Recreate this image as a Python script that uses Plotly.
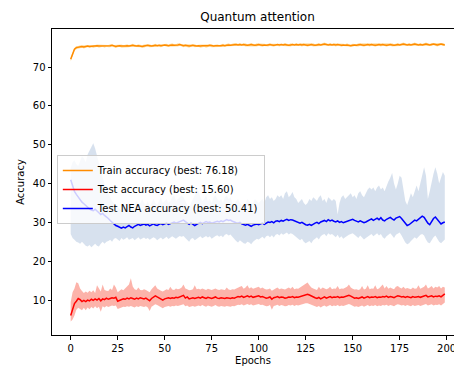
import plotly.graph_objects as go

epochs = list(range(200))

train_mean = [
    72.0, 73.6, 74.6, 75.0, 75.1, 75.2, 75.3, 75.2, 75.3, 75.4, 75.3, 75.4, 75.3, 75.4, 75.5, 75.4, 75.4, 75.5, 75.4, 75.5,
    75.4, 75.5, 75.6, 75.4, 75.3, 75.4, 75.5, 75.4, 75.3, 75.4, 75.5, 75.4, 75.5, 75.6, 75.5, 75.4, 75.5, 75.4, 75.3, 75.4,
    75.5, 75.6, 75.5, 75.4, 75.5, 75.6, 75.5, 75.6, 75.5, 75.6, 75.7, 75.6, 75.5, 75.6, 75.7, 75.6, 75.6, 75.7, 75.8, 75.6,
    75.5, 75.6, 75.5, 75.4, 75.5, 75.6, 75.5, 75.4, 75.5, 75.4, 75.5, 75.5, 75.4, 75.5, 75.6, 75.5, 75.4, 75.5, 75.5, 75.4,
    75.5, 75.6, 75.5, 75.6, 75.7, 75.6, 75.7, 75.8, 75.8, 75.7, 75.8, 75.7, 75.8, 75.7, 75.6, 75.7, 75.8, 75.7, 75.6, 75.7,
    75.8, 75.7, 75.6, 75.7, 75.6, 75.7, 75.8, 75.7, 75.6, 75.7, 75.8, 75.7, 75.8, 75.7, 75.8, 75.7, 75.6, 75.7, 75.8, 75.7,
    75.8, 75.7, 75.8, 75.7, 75.8, 75.7, 75.6, 75.7, 75.8, 75.7, 75.6, 75.7, 75.8, 75.7, 75.8, 75.9, 75.8, 75.7, 75.8, 75.7,
    75.8, 75.7, 75.8, 75.7, 75.6, 75.7, 75.6, 75.7, 75.6, 75.5, 75.6, 75.7, 75.6, 75.7, 75.8, 75.7, 75.6, 75.7, 75.8, 75.7,
    75.8, 75.7, 75.6, 75.7, 75.8, 75.7, 75.8, 75.7, 75.6, 75.7, 75.8, 75.7, 75.6, 75.7, 75.8, 75.7, 75.8, 75.9, 75.8, 75.7,
    75.8, 75.7, 75.8, 75.9, 75.8, 75.7, 75.8, 75.7, 75.8, 75.9, 75.8, 75.7, 75.8, 75.9, 75.8, 75.7, 75.8, 75.9, 75.8, 75.7,
]

train_std = [
    0.6, 0.5, 0.4, 0.4, 0.3, 0.4, 0.3, 0.4, 0.3, 0.3, 0.4, 0.3, 0.4, 0.3, 0.3, 0.4, 0.3, 0.3, 0.4, 0.3,
    0.3, 0.4, 0.3, 0.3, 0.4, 0.3, 0.3, 0.4, 0.3, 0.3, 0.4, 0.3, 0.3, 0.4, 0.3, 0.3, 0.4, 0.3, 0.3, 0.4,
    0.3, 0.3, 0.4, 0.3, 0.3, 0.4, 0.3, 0.3, 0.4, 0.3, 0.3, 0.4, 0.3, 0.3, 0.4, 0.3, 0.3, 0.4, 0.3, 0.3,
    0.4, 0.3, 0.3, 0.4, 0.3, 0.3, 0.4, 0.3, 0.3, 0.4, 0.3, 0.3, 0.4, 0.3, 0.3, 0.4, 0.3, 0.3, 0.4, 0.3,
    0.3, 0.4, 0.3, 0.3, 0.4, 0.3, 0.3, 0.4, 0.3, 0.3, 0.4, 0.3, 0.3, 0.4, 0.3, 0.3, 0.4, 0.3, 0.3, 0.4,
    0.3, 0.3, 0.4, 0.3, 0.3, 0.4, 0.3, 0.3, 0.4, 0.3, 0.3, 0.4, 0.3, 0.3, 0.4, 0.3, 0.3, 0.4, 0.3, 0.3,
    0.4, 0.3, 0.3, 0.4, 0.3, 0.3, 0.4, 0.3, 0.3, 0.4, 0.3, 0.3, 0.4, 0.3, 0.3, 0.4, 0.3, 0.3, 0.4, 0.3,
    0.3, 0.4, 0.3, 0.3, 0.4, 0.3, 0.3, 0.4, 0.3, 0.3, 0.4, 0.3, 0.3, 0.4, 0.3, 0.3, 0.4, 0.3, 0.3, 0.4,
    0.3, 0.3, 0.4, 0.3, 0.3, 0.4, 0.3, 0.3, 0.4, 0.3, 0.3, 0.4, 0.3, 0.3, 0.4, 0.3, 0.3, 0.4, 0.3, 0.3,
    0.4, 0.3, 0.3, 0.4, 0.3, 0.3, 0.4, 0.3, 0.3, 0.4, 0.3, 0.3, 0.4, 0.3, 0.3, 0.4, 0.3, 0.3, 0.4, 0.3,
]

test_mean = [
    6.0, 7.6, 9.1, 9.7, 10.4, 10.1, 9.6, 9.9, 9.6, 10.0, 9.8, 10.2, 9.9, 10.3, 10.0, 10.4, 9.8, 10.3, 10.1, 10.5,
    10.2, 10.4, 10.6, 10.5, 10.7, 9.7, 9.9, 10.1, 10.3, 10.2, 10.5, 10.3, 10.6, 10.4, 10.2, 10.5, 10.3, 10.6, 10.4, 10.3,
    10.5, 10.2, 9.8, 10.4, 10.7, 11.1, 10.8, 10.5, 10.3, 10.0, 10.3, 10.5, 10.6, 10.4, 10.6, 10.5, 10.7, 10.6, 10.8, 10.9,
    11.2, 10.5, 10.8, 10.3, 10.4, 10.6, 10.4, 10.6, 10.7, 10.5, 10.8, 10.6, 10.4, 10.7, 10.5, 10.4, 10.6, 10.8, 10.5, 10.4,
    10.6, 10.5, 10.4, 10.6, 10.5, 10.4, 10.6, 10.5, 10.7, 10.9, 10.8, 11.0, 10.7, 10.9, 11.1, 10.8, 11.0, 10.7, 10.9, 11.0,
    11.1, 10.8, 10.9, 10.7, 10.5, 10.6, 10.8, 10.2, 10.6, 10.7, 10.9, 10.6, 10.8, 10.7, 10.5, 10.6, 10.8, 10.7, 10.9, 10.6,
    10.8, 10.7, 10.9, 11.0, 11.2, 11.4, 11.5, 11.3, 11.0, 10.8, 10.6, 10.4, 10.7, 10.3, 10.6, 10.8, 10.5, 10.7, 10.9, 10.6,
    10.8, 10.7, 10.9, 10.6, 10.8, 10.7, 10.9, 11.0, 11.2, 11.0, 10.7, 10.5, 10.6, 10.4, 10.6, 10.8, 10.5, 10.7, 10.9, 10.6,
    10.8, 10.7, 10.9, 10.6, 10.8, 10.7, 10.9, 10.8, 11.0, 10.7, 10.9, 10.8, 10.6, 10.9, 11.1, 11.0, 10.8, 10.9, 10.7, 10.9,
    10.8, 10.6, 10.9, 10.7, 10.8, 10.9, 10.7, 10.9, 11.0, 11.2, 10.8, 10.9, 11.1, 10.8, 11.0, 10.9, 11.1, 10.8, 11.2, 11.6,
]

test_upper = [
    9.5, 12.0, 13.0, 14.6, 14.3, 13.0, 12.3, 11.8, 12.2, 11.9, 12.4, 12.0, 12.5, 11.8, 13.8, 12.8, 12.2, 14.0, 12.6, 12.4,
    12.3, 13.0, 12.6, 14.0, 13.2, 12.0, 12.4, 12.8, 12.5, 13.0, 13.6, 14.0, 15.6, 13.5, 12.8, 12.6, 13.2, 12.6, 12.5, 12.8,
    12.6, 12.4, 12.0, 12.8, 13.4, 13.8, 13.0, 12.6, 12.4, 12.2, 12.5, 12.8, 12.6, 13.4, 12.7, 12.6, 13.0, 12.8, 12.9, 13.2,
    14.0, 13.0, 12.8, 12.5, 12.6, 12.8, 13.8, 12.8, 12.9, 12.7, 13.0, 12.8, 12.6, 12.9, 12.7, 12.6, 12.8, 13.0, 12.7, 12.6,
    12.8, 12.7, 12.6, 13.2, 12.7, 12.6, 12.8, 12.7, 13.0, 13.2, 13.4, 13.6, 12.9, 13.2, 13.8, 13.0, 13.3, 12.9, 13.1, 13.2,
    13.4, 13.0, 13.2, 12.9, 12.7, 12.8, 13.0, 12.4, 12.8, 13.0, 13.2, 12.8, 13.0, 12.9, 12.7, 13.0, 13.2, 12.9, 13.4, 12.8,
    13.0, 12.9, 13.2, 13.4, 13.8, 14.2, 14.5, 13.8, 13.2, 13.0, 12.8, 12.6, 13.4, 12.8, 13.2, 13.0, 12.8, 13.0, 13.4, 12.8,
    13.0, 12.9, 13.6, 12.8, 13.0, 12.9, 13.2, 13.4, 14.0, 13.2, 12.9, 12.7, 12.8, 12.6, 12.8, 13.6, 12.7, 12.9, 13.8, 12.8,
    13.0, 12.9, 13.8, 12.8, 13.0, 13.4, 14.0, 13.0, 13.6, 12.9, 13.2, 13.0, 12.8, 13.4, 13.6, 13.2, 13.0, 13.4, 12.9, 13.1,
    13.0, 12.8, 13.2, 12.9, 13.0, 13.8, 12.9, 13.1, 13.4, 14.0, 13.0, 13.2, 13.6, 13.0, 13.4, 13.2, 13.6, 13.0, 13.4, 13.2,
]

test_lower = [
    4.5, 5.0, 6.0, 7.5, 8.0, 7.8, 7.4, 8.0, 7.4, 8.1, 7.6, 8.2, 7.8, 8.4, 7.9, 8.3, 7.0, 8.4, 8.1, 8.5,
    8.2, 8.4, 8.6, 8.5, 8.6, 7.7, 7.9, 8.1, 8.3, 8.2, 8.4, 8.3, 8.5, 8.3, 8.1, 8.4, 8.2, 8.5, 8.3, 8.2,
    8.4, 8.1, 7.2, 8.3, 8.6, 8.9, 8.7, 8.4, 8.2, 7.9, 8.2, 8.4, 8.5, 8.3, 8.5, 8.4, 8.6, 8.5, 8.7, 8.8,
    8.9, 8.4, 8.6, 8.2, 8.3, 8.5, 8.3, 8.5, 8.6, 8.4, 8.7, 8.5, 8.3, 8.6, 8.4, 8.3, 8.5, 8.7, 8.4, 8.3,
    8.5, 8.4, 8.3, 8.5, 8.4, 8.3, 8.5, 8.4, 8.6, 8.8, 8.7, 8.9, 8.6, 8.8, 9.0, 8.7, 8.9, 8.6, 8.8, 8.9,
    9.0, 8.7, 8.8, 8.6, 8.4, 8.5, 8.7, 7.5, 8.5, 8.6, 8.8, 8.5, 8.7, 8.6, 8.4, 8.5, 8.7, 8.6, 8.8, 8.5,
    8.7, 8.6, 8.8, 8.9, 9.0, 9.2, 9.2, 9.0, 8.8, 8.6, 8.4, 8.2, 8.5, 8.1, 8.4, 8.6, 8.3, 8.5, 8.7, 8.4,
    8.6, 8.5, 8.7, 8.4, 8.6, 8.5, 8.7, 8.8, 9.0, 8.8, 8.5, 8.3, 8.4, 8.2, 8.4, 8.6, 8.3, 8.5, 8.7, 8.4,
    8.6, 8.5, 8.7, 8.4, 8.6, 8.5, 8.7, 8.6, 8.8, 8.5, 8.7, 8.6, 8.4, 8.7, 8.9, 8.8, 8.6, 8.7, 8.5, 8.7,
    8.6, 8.4, 8.7, 8.5, 8.6, 8.7, 8.5, 8.7, 8.8, 9.0, 8.6, 8.7, 8.9, 8.6, 8.8, 8.7, 8.9, 8.6, 9.0, 9.4,
]

nea_mean = [
    41.0, 39.5, 38.0, 37.2, 36.5, 36.0, 35.2, 34.8, 34.3, 34.0, 33.5, 33.2, 33.0, 33.4, 32.8, 32.5, 32.0, 32.3, 31.8, 31.5,
    31.0, 30.5, 30.0, 29.6, 29.2, 29.0, 28.7, 28.5, 28.8, 28.6, 28.9, 29.2, 28.8, 28.6, 29.0, 29.3, 29.5, 29.2, 29.4, 29.6,
    29.3, 29.5, 29.1, 29.4, 29.6, 29.3, 29.2, 29.5, 29.7, 29.4, 29.6, 29.8, 29.5, 29.7, 29.9, 30.1, 29.8, 30.0, 30.2, 30.4,
    30.6, 30.2, 29.8, 29.5, 29.9, 29.6, 29.2, 29.5, 29.8, 30.0, 29.7, 29.9, 30.2, 30.0, 30.1, 29.8, 30.0, 30.2, 30.3, 30.1,
    30.4, 30.2, 30.5, 30.7, 30.5, 30.6, 30.3, 30.0, 29.9, 29.8, 30.0, 29.6, 29.4, 29.3, 29.5, 29.2, 29.0, 29.3, 29.5, 29.6,
    29.4, 29.6, 29.8, 29.5, 29.9, 30.1, 30.0, 30.2, 29.9, 30.3, 30.4, 30.2, 30.5, 30.3, 30.6, 30.8, 30.5, 30.7, 30.6, 30.4,
    30.2, 29.9, 29.8, 30.0, 29.6, 29.4, 29.3, 29.5, 29.2, 29.6, 29.8, 30.0, 29.7, 30.1, 30.3, 30.5, 30.2, 30.7, 30.4, 30.6,
    30.3, 30.1, 30.4, 30.0, 30.2, 29.9, 30.1, 30.3, 30.4, 30.6, 30.8, 30.5, 30.3, 30.1, 30.4, 30.2, 29.9, 30.1, 30.3, 30.6,
    30.9, 30.5, 30.8, 31.1, 30.7, 31.2, 30.6, 30.4, 30.8, 31.0, 31.3, 30.9, 30.6, 31.1, 31.4, 31.5, 31.0, 30.4, 29.6, 29.2,
    29.4, 29.8, 30.3, 30.6, 30.4, 30.8, 31.2, 31.6, 31.3, 30.5, 29.8, 29.4, 30.2, 31.0, 31.4, 30.8, 30.0, 29.6, 29.9, 30.1,
]

nea_upper = [
    44.0, 45.5, 46.0, 45.0, 44.5, 46.0, 47.0, 46.5, 45.5, 47.5, 48.5, 49.5, 50.4, 49.0, 47.0, 45.0, 43.0, 41.5, 40.0, 38.5,
    37.5, 36.5, 35.5, 35.0, 34.5, 34.0, 33.5, 33.0, 34.0, 33.5, 34.5, 35.0, 34.0, 33.5, 34.5, 35.5, 34.5, 35.0, 36.0, 35.0,
    34.5, 35.5, 34.0, 35.0, 36.0, 35.0, 34.5, 35.5, 36.5, 35.0, 35.5, 36.0, 35.0, 35.5, 36.5, 37.0, 35.5, 36.0, 36.5, 37.0,
    36.5, 35.5, 34.5, 33.5, 35.0, 36.0, 37.0, 38.5, 38.0, 36.5, 35.5, 36.0, 37.0, 35.5, 36.0, 35.0, 36.5, 37.0, 36.0, 35.5,
    36.0, 35.0, 36.5, 37.0, 36.0, 36.5, 35.0, 34.5, 35.5, 36.0, 35.0, 34.5, 34.0, 35.0, 36.0, 35.5, 34.5, 35.0, 36.0, 35.5,
    35.0, 35.5, 36.0, 35.0, 36.5, 37.0, 36.0, 36.5, 35.5, 36.0, 37.0, 36.5, 37.0, 36.0, 37.5, 38.0, 36.5, 37.0, 37.8, 36.5,
    36.0, 35.0, 35.5, 36.0, 35.0, 34.5, 35.0, 36.0, 35.5, 36.5, 36.0, 35.5, 36.5, 37.0, 35.5, 36.0, 35.0, 36.5, 36.0, 35.5,
    36.0, 35.5, 32.0, 35.0, 36.5, 37.0, 36.0, 36.5, 37.0, 37.5, 36.5, 37.0, 36.0, 37.5, 38.0, 37.0, 36.5, 37.5, 38.5, 39.0,
    38.5, 39.0, 38.0, 39.0, 39.5, 38.5, 39.0, 38.0, 39.5, 40.5, 41.5, 42.7, 40.0, 38.5, 40.0, 42.0, 41.5, 38.0, 35.5, 34.5,
    36.0, 37.5, 36.5, 38.0, 39.5, 38.0, 40.0, 42.5, 44.2, 42.0, 36.0, 38.0, 40.5, 42.5, 44.2, 42.5, 40.0, 41.5, 43.0, 42.0,
]

nea_lower = [
    27.0, 26.0, 25.5, 25.0, 24.8, 24.5, 25.0, 24.5, 24.0, 23.8, 24.2, 23.6, 24.0, 24.5, 24.0, 23.8, 24.5, 25.0, 24.5, 25.0,
    25.2, 25.5, 25.0, 25.8, 26.0, 25.5, 25.2, 26.0, 25.5, 25.8, 26.2, 25.5, 25.8, 26.0, 25.4, 25.8, 26.2, 25.6, 25.9, 26.1,
    25.7, 26.0, 25.5, 25.8, 26.2, 25.9, 25.4, 25.8, 26.1, 25.6, 25.9, 26.3, 25.7, 26.0, 26.4, 26.1, 25.8, 26.2, 26.5, 26.3,
    26.5, 26.0, 25.5, 25.0, 25.8, 26.0, 25.4, 25.8, 26.2, 26.4, 25.9, 26.2, 26.5, 26.1, 26.4, 25.8, 26.2, 26.5, 26.7, 26.3,
    26.6, 26.2, 26.8, 27.0, 26.6, 26.9, 26.3, 25.6, 25.2, 24.8, 25.4, 25.0, 24.6, 24.5, 25.0, 24.8, 24.4, 25.0, 25.5, 25.8,
    25.6, 26.0, 26.3, 25.8, 26.4, 26.6, 26.2, 26.7, 26.1, 26.8, 27.0, 26.6, 27.2, 26.8, 27.2, 27.4, 26.9, 27.2, 27.0, 26.6,
    26.2, 25.6, 25.4, 25.8, 25.0, 24.6, 24.8, 25.2, 24.6, 25.4, 25.8, 26.2, 25.6, 26.4, 26.8, 27.0, 26.4, 27.2, 26.8, 27.0,
    26.6, 26.2, 26.8, 26.0, 26.4, 25.8, 26.2, 26.6, 26.8, 27.0, 27.2, 26.8, 26.4, 26.0, 26.6, 26.2, 25.6, 26.0, 26.4, 26.8,
    27.0, 26.4, 26.8, 27.2, 26.6, 27.0, 26.2, 25.8, 26.4, 26.8, 27.2, 26.6, 26.0, 26.8, 27.2, 27.4, 26.6, 25.6, 24.8, 24.4,
    24.6, 25.2, 25.8, 26.2, 25.8, 26.4, 26.8, 27.0, 26.6, 25.6, 24.8, 24.6, 25.4, 26.2, 26.6, 25.8, 25.0, 24.6, 25.2, 25.6,
]

labels = [
    "Train accuracy (best: 76.18)",
    "Test accuracy (best: 15.60)",
    "Test NEA accuracy (best: 50.41)",
]
x_ticks = [0, 25, 50, 75, 100, 125, 150, 175, 200]
y_ticks = [10, 20, 30, 40, 50, 60, 70]

train_lower = [m - s for m, s in zip(train_mean, train_std)]
train_upper = [m + s for m, s in zip(train_mean, train_std)]

fig = go.Figure()


def add_band(lower, upper, fill):
    fig.add_trace(go.Scatter(x=epochs, y=lower, mode="lines", line=dict(width=0),
                             showlegend=False, hoverinfo="skip"))
    fig.add_trace(go.Scatter(x=epochs, y=upper, mode="lines", line=dict(width=0),
                             fill="tonexty", fillcolor=fill, showlegend=False, hoverinfo="skip"))


add_band(train_lower, train_upper, "rgba(255,165,0,0.35)")
fig.add_trace(go.Scatter(x=epochs, y=train_mean, mode="lines", name=labels[0],
                         line=dict(color="#ff8c00", width=1.5)))
add_band(test_lower, test_upper, "rgba(250,128,114,0.6)")
fig.add_trace(go.Scatter(x=epochs, y=test_mean, mode="lines", name=labels[1],
                         line=dict(color="#ff0000", width=1.5)))
add_band(nea_lower, nea_upper, "rgba(176,196,222,0.5)")
fig.add_trace(go.Scatter(x=epochs, y=nea_mean, mode="lines", name=labels[2],
                         line=dict(color="#0000ff", width=1.5)))

font_family = "DejaVu Sans"
fig.update_layout(
    width=454, height=369,
    margin=dict(l=52, r=0, t=29, b=34, autoexpand=False),
    paper_bgcolor="white", plot_bgcolor="white",
    font=dict(family=font_family, size=10, color="black"),
    title=dict(text="Quantum attention", x=(52 + 463) / 2 / 454, xanchor="center",
               y=1 - 17 / 369, yanchor="middle", font=dict(size=12, color="black")),
    showlegend=True,
    legend=dict(x=0.012, y=0.588, xanchor="left", yanchor="top", traceorder="normal",
                bgcolor="rgba(255,255,255,0.8)", bordercolor="#cccccc", borderwidth=1,
                font=dict(size=10, color="black"), tracegroupgap=0, itemwidth=30),
)
fig.update_xaxes(range=[-9.95, 203.9], tickmode="array", tickvals=x_ticks, automargin=False,
                 ticklabeloverflow="allow",
                 ticks="outside", ticklen=3.5, tickcolor="black", showgrid=False, zeroline=False,
                 showline=True, linecolor="black", linewidth=1, mirror=True,
                 title=dict(text="Epochs", standoff=4, font=dict(size=10)))
fig.update_yaxes(range=[1.0, 79.8], tickmode="array", tickvals=y_ticks, automargin=False,
                 ticks="outside", ticklen=3.5, tickcolor="black", showgrid=False, zeroline=False,
                 showline=True, linecolor="black", linewidth=1, mirror=False,
                 title=dict(text="Accuracy", standoff=6, font=dict(size=10)))

fig.write_html("out.html")
